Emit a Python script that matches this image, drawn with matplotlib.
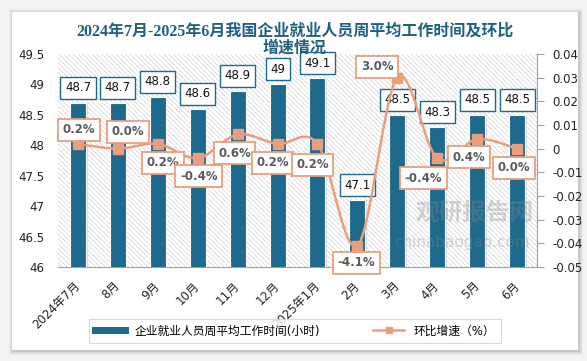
import numpy as np
import matplotlib
matplotlib.use("Agg")
import matplotlib.pyplot as plt
from matplotlib.patches import Rectangle
from matplotlib.lines import Line2D

# Datos
meses = ["2024年7月", "8月", "9月", "10月", "11月", "12月",
         "2025年1月", "2月", "3月", "4月", "5月", "6月"]
horas = [48.7, 48.7, 48.8, 48.6, 48.9, 49.0, 49.1, 47.1, 48.5, 48.3, 48.5, 48.5]
etiquetas_horas = ["48.7", "48.7", "48.8", "48.6", "48.9", "49",
                   "49.1", "47.1", "48.5", "48.3", "48.5", "48.5"]
crecimiento = [0.002, 0.000, 0.002, -0.004, 0.006, 0.002,
               0.002, -0.041, 0.030, -0.004, 0.004, 0.000]

# Desplazamiento (en píxeles) de las etiquetas de la línea
desp_linea = [(1, 14), (10, 17), (5, -19), (1, -18), (-3, -19), (-5, -19),
              (-5, -21), (-1, -17), (-20, 11), (-14, -20), (-8, -18), (-3, -19)]

AZUL = "#1D6A8D"
NARANJA = "#EB9E7E"
TITULO = "#1E6180"

plt.rcParams["font.family"] = ["DejaVu Sans", "Noto Sans CJK SC"]
plt.rcParams["hatch.linewidth"] = 0.5


def curva_suave(x, y, pasos=24):
    """Curva suavizada tipo Catmull-Rom (como el suavizado de Excel)."""
    x = np.asarray(x, float)
    y = np.asarray(y, float)
    px = np.concatenate([[x[0]], x, [x[-1]]])
    py = np.concatenate([[y[0]], y, [y[-1]]])
    t = np.linspace(0, 1, pasos)
    xs, ys = [], []
    for i in range(len(x) - 1):
        p0 = np.array([px[i], py[i]])
        p1 = np.array([px[i + 1], py[i + 1]])
        p2 = np.array([px[i + 2], py[i + 2]])
        p3 = np.array([px[i + 3], py[i + 3]])
        c1 = p1 + (p2 - p0) / 6
        c2 = p2 - (p3 - p1) / 6
        for tt in t:
            b = ((1 - tt) ** 3) * p1 + 3 * ((1 - tt) ** 2) * tt * c1 \
                + 3 * (1 - tt) * tt ** 2 * c2 + tt ** 3 * p2
            xs.append(b[0])
            ys.append(b[1])
    return xs, ys


W, H = 587, 361
fig = plt.figure(figsize=(W / 100, H / 100), dpi=100, facecolor="#F3F3F3")

# tarjeta blanca con sombra
for k, a in [(4, 0.03), (3, 0.04), (2, 0.05), (1, 0.06)]:
    fig.patches.append(Rectangle(((12 - k + 1) / W, 1 - (350 + k + 1) / H),
                                 (566 + 2 * k) / W, (338 + 2 * k) / H,
                                 transform=fig.transFigure, facecolor="black",
                                 alpha=a, edgecolor="none", zorder=-2))
fig.patches.append(Rectangle((12 / W, 1 - 350 / H), 566 / W, 338 / H,
                             transform=fig.transFigure, facecolor="white",
                             edgecolor="none", zorder=-1))

ax = fig.add_axes([58 / W, 1 - 267 / H, (537 - 58) / W, (267 - 54) / H])
ax.set_facecolor("none")
x = np.arange(len(meses))

ax.add_patch(Rectangle((0, 0), 1, 1, transform=ax.transAxes, facecolor="white",
                       edgecolor="#D2D2D2", hatch="\\" * 7, linewidth=0, zorder=0))

ax.bar(x + 0.04, horas, width=0.4, color="#BBBBBB", alpha=0.5, zorder=2)
ax.bar(x, horas, width=0.4, color=AZUL, edgecolor="white", linewidth=0.8, zorder=3)

ax.set_xlim(-0.5, len(meses) - 0.5)
ax.set_ylim(46, 49.5)
ax.set_yticks(np.arange(46, 49.51, 0.5))
ax.set_yticklabels(["46", "46.5", "47", "47.5", "48", "48.5", "49", "49.5"])
ax.set_xticks(x)
ax.set_xticklabels(meses, rotation=45, ha="right", va="center",
                   rotation_mode="anchor")
ax.tick_params(axis="y", length=0, pad=10, labelsize=8.5, colors="#222222")
ax.tick_params(axis="x", length=0, pad=12, labelsize=8.5, colors="#222222")
for s in ["top", "left", "right"]:
    ax.spines[s].set_visible(False)
ax.spines["bottom"].set_color("#A0A0A0")

for xi, v, t in zip(x, horas, etiquetas_horas):
    ax.annotate(t, (xi, v), xytext=(0, 15), textcoords="offset pixels",
                ha="center", va="center", fontsize=8.5, color="#111111",
                zorder=6, annotation_clip=False,
                bbox=dict(boxstyle="square,pad=0.38", facecolor="white",
                          edgecolor=AZUL, linewidth=1.0))

ax2 = ax.twinx()
ax2.set_ylim(-0.05, 0.04)
ticks_der = np.round(np.arange(-0.05, 0.0401, 0.01), 2)
ax2.set_yticks(ticks_der)
ax2.set_yticklabels(["0" if v == 0 else f"{v:g}" for v in ticks_der])
ax2.tick_params(axis="y", direction="out", length=5, width=0.8, color="#A0A0A0",
                pad=6, labelsize=8.5, labelcolor="#222222")
for s in ["top", "left", "bottom"]:
    ax2.spines[s].set_visible(False)
ax2.spines["right"].set_color("#A0A0A0")

xs, ys = curva_suave(x, crecimiento)
ax2.plot(xs, ys, color=NARANJA, linewidth=1.8, zorder=4, clip_on=False)
ax2.plot(x, crecimiento, linestyle="none", marker="s", markersize=6.5,
         color=NARANJA, zorder=5, clip_on=False)

for xi, v, d in zip(x, crecimiento, desp_linea):
    ax2.annotate(f"{v * 100:.1f}%", (xi, v), xytext=d, textcoords="offset pixels",
                 ha="center", va="center", fontsize=8.5, fontweight="bold",
                 color="#5A5A5A", zorder=7, annotation_clip=False,
                 bbox=dict(boxstyle="square,pad=0.38", facecolor="white",
                           edgecolor=NARANJA, linewidth=1.3))

# marca de agua
fig.text(475 / W, 1 - 213 / H, "观研报告网", fontsize=17, fontweight="bold",
         color="#888888", alpha=0.35, ha="center", va="center")
fig.text(462 / W, 1 - 243 / H, "chinabaogao.com", fontsize=11,
         color="#888888", alpha=0.35, ha="center", va="center")

fig.text(295 / W, 1 - 40 / H,
         "2024年7月-2025年6月我国企业就业人员周平均工作时间及环比\n增速情况",
         ha="center", va="center", fontsize=11.5, fontweight="bold", color=TITULO,
         family=["Liberation Serif", "Noto Sans CJK SC"], linespacing=1.15)

manejadores = [Line2D([0], [0], color=AZUL, linewidth=5),
               Line2D([0], [0], color=NARANJA, linewidth=1.8, marker="s",
                      markersize=5)]
fig.legend(manejadores, ["企业就业人员周平均工作时间(小时)", "环比增速（%）"],
           loc="center", bbox_to_anchor=(295 / W, 1 - 331 / H), ncol=2,
           fontsize=8.5, frameon=True, fancybox=False, edgecolor="#D0D0D0",
           handlelength=2.6, columnspacing=4.5, borderpad=0.5)
leg = fig.legends[0]
leg.get_frame().set_linewidth(0.8)

fig.savefig("out.png", dpi=100, facecolor=fig.get_facecolor())
